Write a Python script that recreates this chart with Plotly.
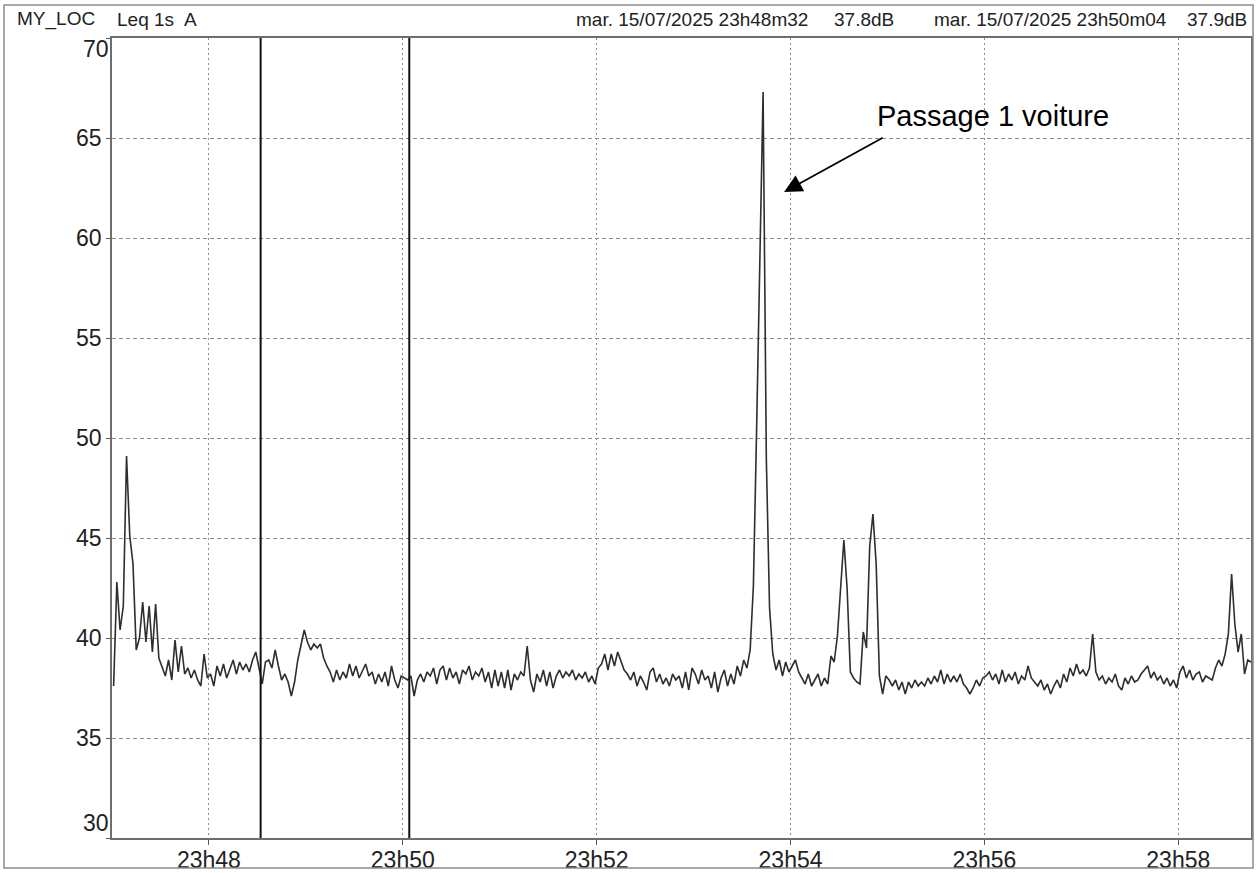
import pandas as pd
import plotly.graph_objects as go

# Leq 1s A, every 2 s (starting 23:47:01)
START = "2025-07-15 23:47:01"

leq_2347 = [37.6, 42.8, 40.4, 41.6, 49.1, 45.1, 43.7, 39.4, 40.0, 41.8,
            39.8, 41.6, 39.3, 41.7, 39.0, 38.6, 38.1, 38.9, 37.9, 39.9,
            38.3, 39.6, 38.2, 38.5, 38.0, 38.4, 37.9, 37.6, 39.2, 38.0]
leq_2348 = [38.2, 37.6, 38.6, 38.1, 38.7, 38.0, 38.4, 38.9, 38.2, 38.8,
            38.4, 38.7, 38.3, 38.9, 39.3, 38.5, 37.7, 38.8, 38.9, 38.5,
            39.4, 38.6, 37.9, 38.2, 37.8, 37.1, 37.8, 38.9, 39.6, 40.4]
leq_2349 = [39.8, 39.4, 39.7, 39.5, 39.7, 39.0, 38.6, 38.3, 37.8, 38.4,
            37.9, 38.3, 38.0, 38.7, 38.1, 38.6, 38.0, 38.4, 38.7, 38.1,
            38.3, 37.7, 38.2, 37.8, 38.3, 37.6, 38.6, 37.9, 37.5, 38.1]
leq_2350 = [38.0, 37.9, 38.1, 37.1, 37.9, 38.2, 37.8, 38.3, 38.1, 38.5,
            37.7, 38.4, 38.6, 37.9, 38.5, 38.0, 38.3, 37.7, 38.4, 38.2,
            38.6, 37.9, 38.3, 38.1, 38.5, 37.8, 38.3, 37.5, 38.4, 37.6]
leq_2351 = [38.3, 37.5, 38.4, 37.4, 38.2, 37.9, 38.3, 38.1, 39.6, 37.9,
            37.3, 38.2, 37.8, 38.4, 37.6, 38.3, 37.5, 38.1, 38.4, 38.0,
            38.3, 38.1, 38.4, 37.9, 38.2, 38.0, 38.3, 37.8, 38.1, 37.7]
leq_2352 = [38.5, 38.7, 39.2, 38.4, 39.2, 38.6, 39.3, 38.9, 38.4, 38.2,
            37.9, 38.3, 37.6, 38.1, 37.8, 37.4, 38.3, 38.5, 37.8, 38.2,
            37.7, 38.0, 37.6, 38.2, 37.9, 38.1, 37.5, 38.3, 37.4, 38.5]
leq_2353 = [38.2, 37.7, 38.4, 37.9, 38.1, 37.5, 38.3, 37.3, 38.0, 38.4,
            37.6, 38.2, 37.7, 38.6, 38.1, 38.9, 38.5, 39.4, 42.6, 50.5,
            59.5, 67.3, 49.0, 41.5, 39.2, 38.4, 38.9, 38.1, 38.8, 38.3]
leq_2354 = [38.6, 38.9, 38.3, 38.0, 37.7, 38.2, 37.6, 37.9, 38.2, 37.6,
            38.0, 37.7, 39.1, 38.8, 40.1, 42.5, 44.9, 42.5, 38.3, 38.0,
            37.8, 37.7, 40.3, 39.5, 44.6, 46.2, 43.7, 38.1, 37.2, 38.1]
leq_2355 = [37.9, 37.6, 37.9, 37.4, 37.8, 37.2, 37.8, 37.5, 37.9, 37.6,
            37.8, 37.6, 38.0, 37.7, 38.1, 37.8, 38.4, 37.7, 38.2, 37.8,
            38.1, 37.8, 38.2, 37.7, 37.5, 37.2, 37.5, 37.9, 37.6, 38.0]
leq_2356 = [38.1, 38.3, 37.9, 38.2, 37.7, 38.4, 37.8, 38.2, 37.9, 38.3,
            37.7, 38.1, 37.9, 38.6, 38.0, 37.8, 37.6, 37.9, 37.4, 37.7,
            37.2, 37.6, 37.9, 37.5, 38.2, 37.8, 38.5, 38.1, 38.7, 38.2]
leq_2357 = [38.4, 38.1, 38.5, 40.2, 38.3, 37.9, 38.1, 37.7, 38.0, 37.8,
            38.2, 37.6, 37.4, 38.0, 37.7, 38.1, 37.8, 37.9, 38.2, 38.4,
            38.6, 38.0, 38.3, 37.9, 38.1, 37.7, 38.0, 37.6, 37.9, 37.5]
leq_2358 = [38.3, 38.6, 38.0, 38.4, 37.9, 38.2, 38.3, 37.8, 38.1, 38.0,
            37.9, 38.5, 38.9, 38.6, 39.2, 40.2, 43.2, 40.7, 39.3, 40.2,
            38.2, 38.9, 38.8]

leq = (leq_2347 + leq_2348 + leq_2349 + leq_2350 + leq_2351 + leq_2352
       + leq_2353 + leq_2354 + leq_2355 + leq_2356 + leq_2357 + leq_2358)
times = pd.date_range(START, periods=len(leq), freq="2s")

cursor_times = ["2025-07-15 23:48:32", "2025-07-15 23:50:04"]
cursor_labels = ["mar. 15/07/2025 23h48m32", "mar. 15/07/2025 23h50m04"]
cursor_values = ["37.8dB", "37.9dB"]

x_ticks = ["2025-07-15 23:48", "2025-07-15 23:50", "2025-07-15 23:52",
           "2025-07-15 23:54", "2025-07-15 23:56", "2025-07-15 23:58"]
x_range = ["2025-07-15 23:47:00", "2025-07-15 23:58:45"]
y_ticks = [30, 35, 40, 45, 50, 55, 60, 65, 70]
y_range = [30, 70]

W, H = 1257, 873
L, R, T, B = 112, 6, 38, 35
FONT = "Liberation Sans, Arial, sans-serif"
TICK_FONT = dict(family=FONT, size=23, color="#222222")


def px_x(x):
  return (x - L) / (W - L - R)


def px_y(y):
  return (H - B - y) / (H - T - B)


fig = go.Figure()
fig.add_trace(go.Scatter(x=times, y=leq, mode="lines",
                         line=dict(color="#2e2e2e", width=1.6),
                         showlegend=False, hoverinfo="x+y"))

# cursors
for ct in cursor_times:
  fig.add_shape(type="line", x0=ct, x1=ct, y0=0, y1=1, xref="x", yref="paper",
                line=dict(color="#111111", width=2))

# outer frame of the printout
fig.add_shape(type="rect", xref="paper", yref="paper",
              x0=px_x(4), x1=px_x(1253), y0=px_y(868), y1=px_y(5),
              line=dict(color="#8c8c8c", width=1.5))

# header line
header = [("MY_LOC", 15, "left"), ("Leq 1s", 115, "left"), ("A", 182, "left"),
          (cursor_labels[0], 574, "left"), (cursor_values[0], 832, "left"),
          (cursor_labels[1], 932, "left"), (cursor_values[1], 1249, "right")]
for txt, xp, anchor in header:
  fig.add_annotation(text=txt, x=px_x(xp), y=px_y(19), xref="paper", yref="paper",
                     xanchor=anchor, yanchor="middle", showarrow=False,
                     font=dict(family=FONT, size=19, color="#222222"))

# end labels of the y axis sit inside the range, like on the printout
y_ticktext = [str(v) if v not in y_range else "" for v in y_ticks]
fig.add_annotation(text=str(y_range[1]), x=px_x(111), y=y_range[1], xref="paper", yref="y",
                   xanchor="right", yanchor="top", yshift=4, showarrow=False, font=TICK_FONT)
fig.add_annotation(text=str(y_range[0]), x=px_x(111), y=y_range[0], xref="paper", yref="y",
                   xanchor="right", yanchor="bottom", showarrow=False, font=TICK_FONT)

# "Passage 1 voiture" arrow and label
fig.add_annotation(x="2025-07-15 23:53:56", y=62.3, xref="x", yref="y",
                   ax="2025-07-15 23:54:58", ay=65.05, axref="x", ayref="y",
                   text="", showarrow=True, arrowhead=2, arrowsize=2,
                   arrowwidth=1.8, arrowcolor="#000000", standoff=0)
fig.add_annotation(x="2025-07-15 23:56:05", y=66.1, xref="x", yref="y",
                   text="Passage 1 voiture", showarrow=False,
                   font=dict(family=FONT, size=29, color="#000000"))

fig.update_xaxes(range=x_range, tickvals=x_ticks, tickformat="%Hh%M", automargin=False,
                 showgrid=True, gridcolor="#8a8a8a", gridwidth=1, griddash="2px,3px",
                 showline=True, linecolor="#6e6e6e", linewidth=1.5, mirror=True,
                 ticks="outside", ticklen=5, tickcolor="#555555", ticklabelstandoff=-4,
                 tickfont=TICK_FONT, zeroline=False)
fig.update_yaxes(range=y_range, tickvals=y_ticks, ticktext=y_ticktext, automargin=False,
                 showgrid=True, gridcolor="#8a8a8a", gridwidth=1, griddash="4px,3px",
                 showline=True, linecolor="#6e6e6e", linewidth=1.5, mirror=True,
                 ticks="outside", ticklen=4, tickcolor="#555555",
                 tickfont=TICK_FONT, zeroline=False)

fig.update_layout(width=W, height=H, margin=dict(l=L, r=R, t=T, b=B),
                  plot_bgcolor="white", paper_bgcolor="white",
                  showlegend=False, font=dict(family=FONT))

# the page's default body margin would push the 1257x873 figure off-screen
fig.write_html("out.html", config={"displayModeBar": False},
               post_script="document.body.style.margin = '0px';")
